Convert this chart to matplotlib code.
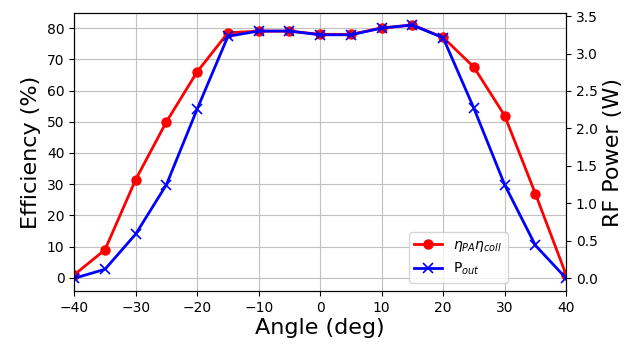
import numpy as np
import matplotlib
matplotlib.use("Agg")
import matplotlib.pyplot as plt

angle = [-40, -35, -30, -25, -20, -15, -10, -5, 0, 5, 10, 15, 20, 25, 30, 35, 40]
efficiency = [1.0, 9.0, 31.5, 50.0, 66.0, 78.5, 79.0, 79.0, 78.0, 78.0, 80.0, 81.0, 77.0, 67.5, 52.0, 27.0, 1.0]
p_out = [0.0, 0.12, 0.59, 1.25, 2.26, 3.23, 3.30, 3.30, 3.25, 3.25, 3.34, 3.38, 3.21, 2.27, 1.25, 0.44, 0.0]

fig, ax = plt.subplots(figsize=(6.29, 3.44), dpi=100)
fig.subplots_adjust(left=0.118, right=0.9, top=0.962, bottom=0.154)

l1, = ax.plot(angle, efficiency, "o-", color="red", lw=2, ms=6.5,
              label=r"$\eta_{PA}\eta_{coll}$")
ax2 = ax.twinx()
l2, = ax2.plot(angle, p_out, "x-", color="blue", lw=2, ms=6.5, mew=1.2,
               label=r"P$_{out}$")

ax.set_xlim(-40, 40)
ax.set_ylim(-4.2, 84.8)
ax.set_yticks(np.arange(0, 81, 10))
ax2.set_ylim(-0.17, 3.54)
ax2.set_yticks(np.arange(0, 3.51, 0.5))
ax.grid(True, color="#c0c0c0", lw=0.8)

ax.set_xlabel("Angle (deg)", fontsize=16, labelpad=2)
ax.set_ylabel("Efficiency (%)", fontsize=16)
ax2.set_ylabel("RF Power (W)", fontsize=16)

ax.legend(handles=[l1, l2], loc="lower right", bbox_to_anchor=(0.882, 0.03),
          borderaxespad=0, fontsize=10)

fig.savefig("out.png", dpi=100)
